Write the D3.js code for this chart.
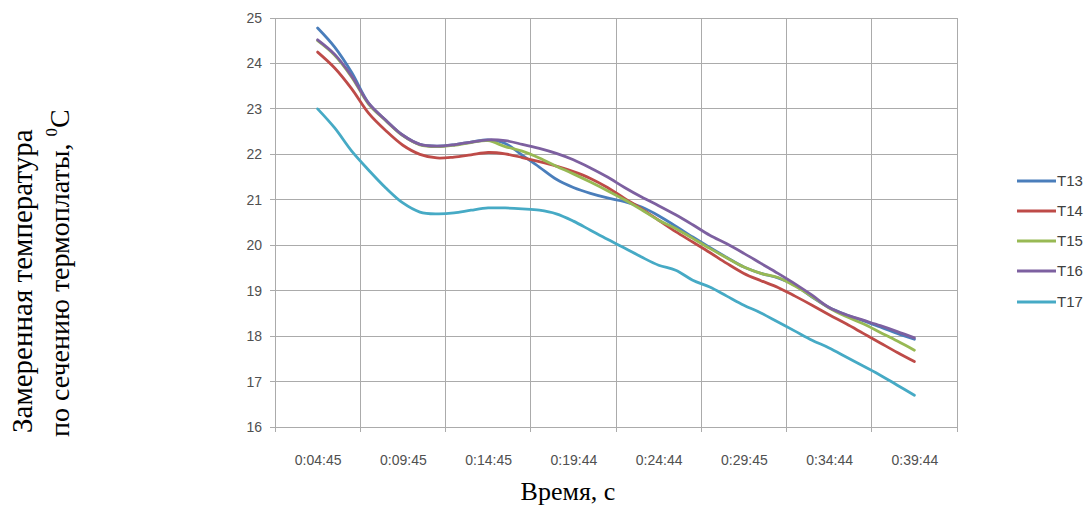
<!DOCTYPE html>
<html><head><meta charset="utf-8">
<script src="https://cdn.jsdelivr.net/npm/d3@7"></script>
<style>
html,body{margin:0;padding:0;background:#fff;}
svg{display:block;}
</style></head>
<body>
<svg id="chart" width="1090" height="506"></svg>
<script>
const categories = ["0:04:45","0:05:45","0:06:45","0:07:45","0:08:45","0:09:45","0:10:45","0:11:45","0:12:45","0:13:45",
  "0:14:45","0:15:45","0:16:45","0:17:44","0:18:44","0:19:44","0:20:44","0:21:44","0:22:44","0:23:44",
  "0:24:44","0:25:44","0:26:44","0:27:45","0:28:45","0:29:45","0:30:44","0:31:44","0:32:44","0:33:44",
  "0:34:44","0:35:44","0:36:44","0:37:44","0:38:44","0:39:44"];
const tickLabels = ["0:04:45","0:09:45","0:14:45","0:19:44","0:24:44","0:29:45","0:34:44","0:39:44"];
const yTicks = [16,17,18,19,20,21,22,23,24,25];
const seriesNames = ["T13","T14","T15","T16","T17"];
const T13 = [24.78,24.36,23.80,23.12,22.75,22.42,22.22,22.18,22.21,22.27,22.32,22.24,21.98,21.72,21.45,21.27,21.14,21.04,20.96,20.84,
  20.65,20.42,20.18,19.95,19.73,19.52,19.38,19.28,19.12,18.86,18.63,18.47,18.34,18.20,18.06,17.93];
const T14 = [24.25,23.90,23.44,22.90,22.52,22.20,22.00,21.92,21.94,21.99,22.04,22.01,21.93,21.84,21.74,21.62,21.47,21.27,21.03,20.80,
  20.55,20.30,20.07,19.84,19.60,19.38,19.22,19.07,18.88,18.68,18.47,18.27,18.06,17.85,17.64,17.44];
const T15 = [24.50,24.18,23.70,23.10,22.74,22.41,22.21,22.17,22.20,22.26,22.30,22.17,22.07,21.92,21.74,21.57,21.39,21.20,21.00,20.78,
  20.55,20.37,20.15,19.93,19.72,19.52,19.38,19.29,19.10,18.87,18.62,18.43,18.27,18.08,17.89,17.69];
const T16 = [24.52,24.20,23.72,23.12,22.75,22.42,22.22,22.18,22.21,22.27,22.32,22.30,22.22,22.13,22.02,21.88,21.70,21.50,21.27,21.06,
  20.87,20.67,20.45,20.22,20.03,19.82,19.60,19.38,19.15,18.90,18.63,18.47,18.35,18.23,18.10,17.96];
const T17 = [23.00,22.58,22.07,21.65,21.26,20.93,20.73,20.69,20.71,20.77,20.82,20.82,20.80,20.77,20.69,20.53,20.33,20.13,19.94,19.74,
  19.56,19.45,19.23,19.08,18.88,18.68,18.51,18.31,18.11,17.91,17.74,17.54,17.34,17.14,16.92,16.70];
const seriesValues = [T13,T14,T15,T16,T17];
const seriesColors = ["#4A7EBB","#BE4B48","#98B954","#7D60A0","#46AAC5"];

const svg = d3.select("#chart");
const L = 275, R = 957, T = 18, B = 427;
const x = d3.scalePoint().domain(categories).range([L, R]).padding(2.5);
const y = d3.scaleLinear().domain([16, 25]).range([B, T]);
const step = x.step();
const bounds = tickLabels.map(c => x(c) - 2.5 * step).concat([x(categories[categories.length-1]) + 2.5 * step]);

const gridColor = "#ababab";
svg.append("g").selectAll("line").data(yTicks).join("line")
  .attr("x1", L - 5).attr("x2", R).attr("y1", d => y(d)).attr("y2", d => y(d))
  .attr("stroke", gridColor).attr("stroke-width", 1).attr("shape-rendering", "crispEdges");
svg.append("g").selectAll("line").data(bounds).join("line")
  .attr("x1", d => d).attr("x2", d => d).attr("y1", T).attr("y2", B + 5)
  .attr("stroke", gridColor).attr("stroke-width", 1).attr("shape-rendering", "crispEdges");

const yAxis = svg.append("g").attr("transform", `translate(${L},0)`)
  .call(d3.axisLeft(y).tickValues(yTicks).tickSize(0).tickPadding(13).tickFormat(d3.format("d")));
yAxis.select(".domain").remove();
yAxis.selectAll("text").attr("font-family", "Liberation Sans, Arial, sans-serif").attr("font-size", 14).attr("fill", "#505050");

const xAxis = svg.append("g").attr("transform", `translate(0,${B})`)
  .call(d3.axisBottom(x).tickValues(tickLabels).tickSize(0).tickPadding(28));
xAxis.select(".domain").remove();
xAxis.selectAll("text").attr("font-family", "Liberation Sans, Arial, sans-serif").attr("font-size", 14).attr("fill", "#505050");

const line = d3.line().x((d, i) => x(categories[i])).y(d => y(d)).curve(d3.curveCatmullRom.alpha(0.5));
svg.append("g").selectAll("path").data(seriesValues).join("path")
  .attr("d", d => line(d)).attr("fill", "none")
  .attr("stroke", (d, i) => seriesColors[i]).attr("stroke-width", 2.8)
  .attr("stroke-linejoin", "round").attr("stroke-linecap", "round");

const legendY = [181, 211, 241, 271, 302];
const lg = svg.append("g");
lg.selectAll("line").data(seriesNames).join("line")
  .attr("x1", 1017).attr("x2", 1056).attr("y1", (d, i) => legendY[i]).attr("y2", (d, i) => legendY[i])
  .attr("stroke", (d, i) => seriesColors[i]).attr("stroke-width", 2.8);
lg.selectAll("text").data(seriesNames).join("text")
  .attr("x", 1057).attr("y", (d, i) => legendY[i]).attr("dy", "0.35em")
  .attr("font-family", "Liberation Sans, Arial, sans-serif").attr("font-size", 15).attr("fill", "#404040")
  .text(d => d);

svg.append("text").attr("x", 568).attr("y", 500).attr("text-anchor", "middle")
  .attr("font-family", "Liberation Serif, Times New Roman, serif").attr("font-size", 26).attr("fill", "#000")
  .text("Время, с");
svg.append("text").attr("transform", "translate(32,433) rotate(-90)")
  .attr("font-family", "Liberation Serif, Times New Roman, serif").attr("font-size", 29).attr("fill", "#000")
  .text("Замеренная температура");
const yt2 = svg.append("text").attr("transform", "translate(69,437) rotate(-90)")
  .attr("font-family", "Liberation Serif, Times New Roman, serif").attr("font-size", 28).attr("fill", "#000");
yt2.append("tspan").text("по сечению термоплаты, ");
yt2.append("tspan").attr("font-size", 17).attr("dy", -12).text("0");
yt2.append("tspan").attr("dy", 12).text("C");
</script>
</body></html>
